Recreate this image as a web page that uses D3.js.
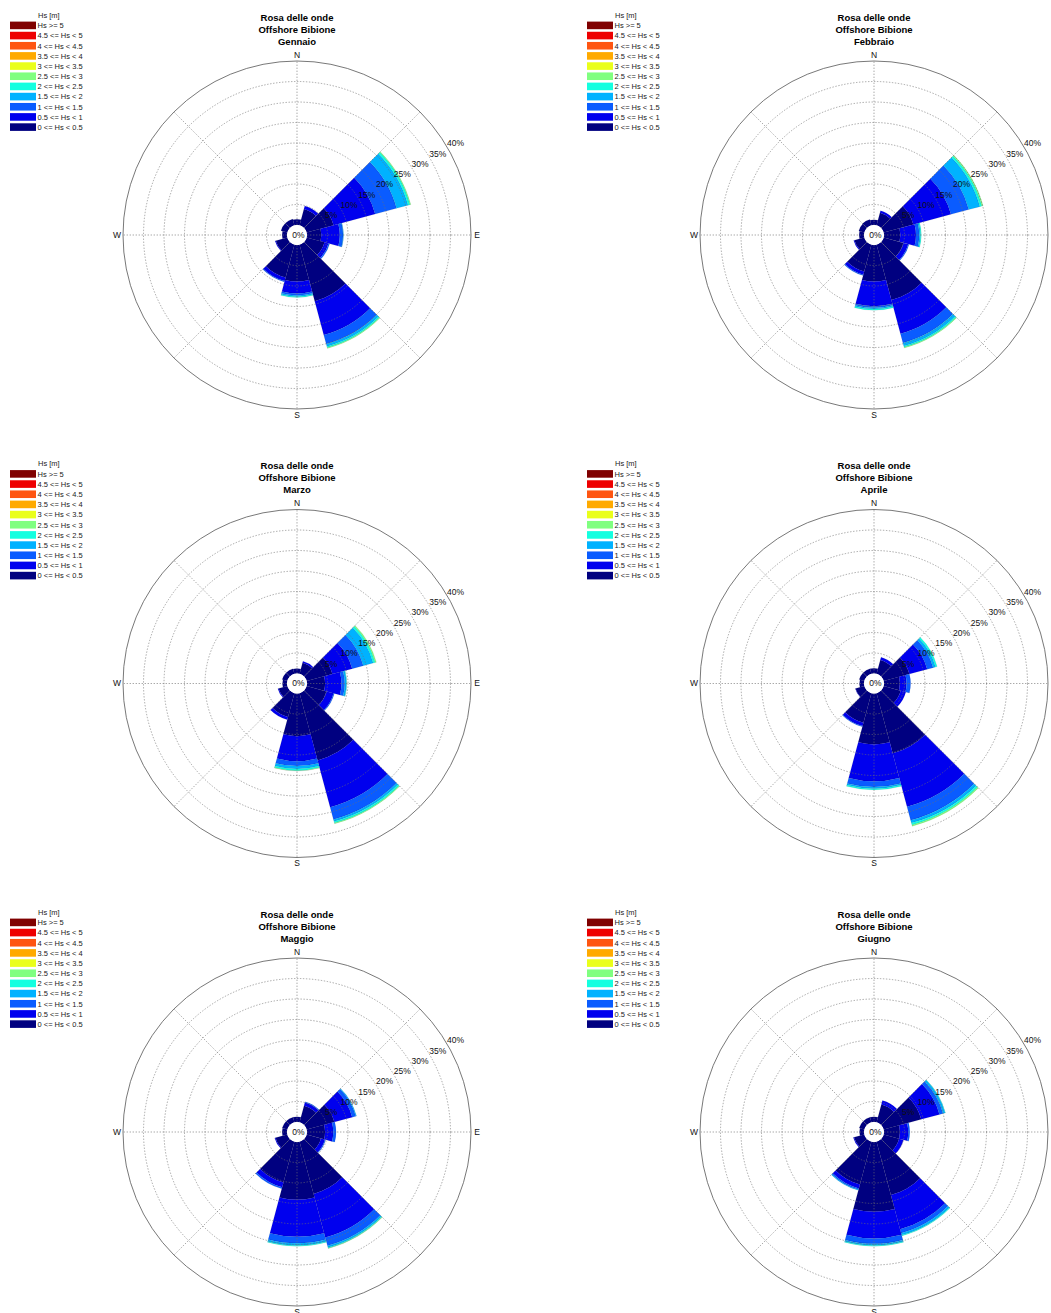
<!DOCTYPE html>
<meta charset="utf-8">
<style type="text/css">
	body {
		font-family: "Liberation Sans", Arial, sans-serif;
		margin: 0;
		background: #fff;
	}

	.grid {
		fill: none;
		stroke: #6e6e6e;
		stroke-width: 0.6px;
		stroke-dasharray: 1.4, 1.6;
	}

	.outer {
		fill: none;
		stroke: #555;
		stroke-width: 0.8px;
	}

	.title {
		font-size: 9.5px;
		font-weight: bold;
		text-anchor: middle;
		fill: #000;
	}

	.dir, .pct {
		font-size: 8.5px;
		text-anchor: middle;
		fill: #111;
	}

	.legend text {
		font-size: 7.5px;
		fill: #222;
	}
</style>

<body>
<div class="g-chart"></div>
</body>

<script src="https://d3js.org/d3.v7.min.js"></script>

<script>
  //Direction sectors (deg from north), 30 deg wide
  var directions = [0, 30, 60, 90, 120, 150, 180, 210, 240, 270, 300, 330];

  //Wave height classes, low to high
  var classes = ["0 <= Hs < 0.5", "0.5 <= Hs < 1", "1 <= Hs < 1.5", "1.5 <= Hs < 2",
    "2 <= Hs < 2.5", "2.5 <= Hs < 3", "3 <= Hs < 3.5", "3.5 <= Hs < 4",
    "4 <= Hs < 4.5", "4.5 <= Hs < 5", "Hs >= 5"];

  var classColors = ["#000080", "#0000ee", "#0a5cff", "#00b2ff", "#14ffe0", "#80ff80",
    "#eaff1a", "#ffaa00", "#ff5511", "#ee0000", "#800000"];

  var months = ["Gennaio", "Febbraio", "Marzo", "Aprile", "Maggio", "Giugno"];

  var pctTicks = [5, 10, 15, 20, 25, 30, 35, 40];
  var dirLabels = ["N", "E", "S", "W"];

  //Frequencies (%) per sector, per Hs class (missing classes = 0)
  var gennaio = [
    [1.4], [4.1, 0.8], [6.8, 10.5, 5.4, 2.9, 0.5, 0.2], [3.5, 4.5, 0.8, 0.1],
    [4.5, 1.0, 0.3], [14.3, 8.5, 2.3, 0.6, 0.3, 0.2], [8.9, 2.9, 0.5, 0.3, 0.2],
    [8.3, 0.9, 0.2], [2.9, 0.2], [1.2], [1.6], [1.6]
  ];
  var febbraio = [
    [1.3], [3.2, 0.5], [7.5, 9.5, 4.5, 2.8, 0.5, 0.3], [4.0, 3.8, 0.8, 0.3, 0.2],
    [5.0, 1.2, 0.2], [14.0, 8.5, 2.3, 0.8, 0.3, 0.2], [8.9, 6.0, 0.4, 0.3, 0.3],
    [6.8, 0.8, 0.2], [2.5, 0.2], [1.2], [1.4], [1.5]
  ];
  var marzo = [
    [1.2], [2.8, 0.4], [6.5, 5.0, 2.8, 2.5, 0.5, 0.3], [4.4, 4.0, 0.8, 0.4, 0.1],
    [5.0, 1.8, 0.2], [17.0, 11.8, 3.1, 0.5, 0.4, 0.2], [10.4, 6.1, 1.2, 0.7, 0.4, 0.1],
    [6.0, 0.7], [2.2, 0.2], [1.1], [1.3], [1.3]
  ];
  var aprile = [
    [1.3], [3.5, 0.7], [6.5, 4.5, 1.5, 0.6, 0.4], [3.9, 1.6, 1.0],
    [4.3, 1.3], [15.2, 13.5, 3.4, 0.7, 0.5, 0.3], [12.4, 9.0, 1.4, 0.4, 0.3],
    [7.5, 0.8, 0.2], [2.2, 0.1], [1.1], [1.3], [1.3]
  ];
  var maggio = [
    [1.3], [4.2, 0.8, 0.2], [7.0, 4.5, 0.9, 0.2], [4.4, 2.0, 0.7],
    [3.6, 1.0, 0.2], [13.2, 11.0, 2.1, 0.4, 0.2, 0.1], [14.1, 9.0, 1.6, 0.5, 0.2],
    [10.3, 1.2, 0.4], [3.0, 0.2], [1.2], [1.3], [1.3]
  ];
  var giugno = [
    [1.3], [4.5, 1.0], [9.5, 4.6, 0.9, 0.5, 0.1], [3.9, 2.0, 0.4],
    [3.9, 1.1], [13.5, 8.6, 1.0, 0.5, 0.2], [17.0, 6.5, 1.3, 0.4, 0.2],
    [10.8, 1.0, 0.3, 0.2], [2.6, 0.2], [1.1], [1.3], [1.3]
  ];
  var monthData = [gennaio, febbraio, marzo, aprile, maggio, giugno];

  //Layout
  var width = 1051, height = 1313;
  var colStep = 577, rowStep = 448.5;
  var cx = 297, cy = 235;

  var svg = d3.select(".g-chart").append("svg")
    .attr("width", width)
    .attr("height", height);

  //Radial scale: 0% sits on a small inner circle
  var rScale = d3.scaleLinear()
    .domain([0, 40])
    .range([10, 174]);

  var angle = d3.scaleLinear()
    .domain([0, 360])
    .range([0, 2 * Math.PI]);

  var arc = d3.arc();

  months.forEach(function(month, m) {
    var ox = (m % 2) * colStep,
      oy = Math.floor(m / 2) * rowStep;

    var panel = svg.append("g")
      .attr("transform", "translate(" + ox + "," + oy + ")");

    //Title
    ["Rosa delle onde", "Offshore Bibione", month].forEach(function(t, i) {
      panel.append("text")
        .attr("class", "title")
        .attr("x", cx)
        .attr("y", 20.5 + i * 12.2)
        .text(t);
    });

    //Legend
    var legend = panel.append("g").attr("class", "legend");
    legend.append("text")
      .attr("x", 38)
      .attr("y", 17.5)
      .text("Hs [m]");

    var rows = legend.selectAll("g.row")
      .data(classes.map(function(c, k) { return { label: c, k: k }; }).reverse())
      .enter()
      .append("g")
      .attr("class", "row")
      .attr("transform", function(d, j) { return "translate(0," + (25.4 + j * 10.17) + ")"; });

    rows.append("rect")
      .attr("x", 10)
      .attr("y", -3.8)
      .attr("width", 26)
      .attr("height", 7.6)
      .style("fill", function(d) { return classColors[d.k]; });

    rows.append("text")
      .attr("x", 37.5)
      .attr("y", 2.8)
      .text(function(d) { return d.label; });

    var rose = panel.append("g")
      .attr("transform", "translate(" + cx + "," + cy + ")");

    //Stacked sectors
    var pieces = [];
    monthData[m].forEach(function(vals, s) {
      var acc = 0;
      vals.forEach(function(v, k) {
        pieces.push({ dir: directions[s], k: k, r0: acc, r1: acc + v });
        acc += v;
      });
    });

    rose.selectAll("path.sector")
      .data(pieces)
      .enter()
      .append("path")
      .attr("class", "sector")
      .attr("d", function(d) {
        return arc({
          innerRadius: rScale(d.r0),
          outerRadius: rScale(d.r1),
          startAngle: angle(d.dir - 15),
          endAngle: angle(d.dir + 15)
        });
      })
      .style("fill", function(d) { return classColors[d.k]; })
      .style("stroke", "rgba(0,0,30,0.25)")
      .style("stroke-width", 0.3);

    //Grid circles
    rose.selectAll("circle.grid")
      .data(pctTicks.slice(0, -1))
      .enter()
      .append("circle")
      .attr("class", "grid")
      .attr("r", function(d) { return rScale(d); });

    rose.append("circle")
      .attr("class", "outer")
      .attr("r", rScale(40));

    //Radial lines every 45 deg
    rose.selectAll("line.grid")
      .data(d3.range(0, 360, 45))
      .enter()
      .append("line")
      .attr("class", "grid")
      .attr("x1", function(d) { return rScale(0) * Math.sin(angle(d)); })
      .attr("y1", function(d) { return -rScale(0) * Math.cos(angle(d)); })
      .attr("x2", function(d) { return rScale(40) * Math.sin(angle(d)); })
      .attr("y2", function(d) { return -rScale(40) * Math.cos(angle(d)); });

    //Centre hole
    rose.append("circle")
      .attr("r", rScale(0))
      .style("fill", "#fff");

    rose.append("text")
      .attr("class", "pct")
      .attr("x", 1.5)
      .attr("dy", "0.35em")
      .text("0%");

    //Percent labels along 60 deg
    rose.selectAll("text.pctlab")
      .data(pctTicks)
      .enter()
      .append("text")
      .attr("class", "pct")
      .attr("x", function(d) { return (rScale(d) + 9) * Math.sin(angle(60)); })
      .attr("y", function(d) { return -(rScale(d) + 9) * Math.cos(angle(60)); })
      .attr("dy", "0.35em")
      .text(function(d) { return d + "%"; });

    //Compass labels
    rose.selectAll("text.dir")
      .data(dirLabels)
      .enter()
      .append("text")
      .attr("class", "dir")
      .attr("x", function(d, i) { return 180 * Math.sin(angle(i * 90)); })
      .attr("y", function(d, i) { return -180 * Math.cos(angle(i * 90)); })
      .attr("dy", "0.35em")
      .text(function(d) { return d; });
  });
</script>
